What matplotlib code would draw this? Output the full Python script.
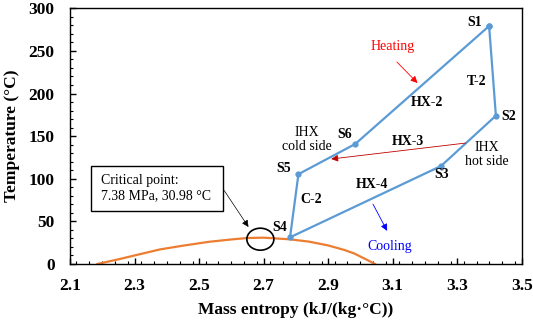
import matplotlib
matplotlib.use("Agg")
import matplotlib.pyplot as plt
from matplotlib.patches import Ellipse, Rectangle
from matplotlib.ticker import MultipleLocator
import numpy as np

plt.rcParams['font.family'] = ['Liberation Serif', 'DejaVu Serif']
plt.rcParams['mathtext.fontset'] = 'stix'

# Cycle state points (S1 -> S2 -> S3 -> S4 -> S5 -> S6 -> S1)
state_labels = ["S1", "S2", "S3", "S4", "S5", "S6"]
cycle_s = [3.399, 3.420, 3.250, 2.782, 2.808, 2.984]
cycle_T = [279.2, 174.0, 115.0, 31.3, 105.4, 140.8]

# Saturation dome of CO2
dome_s = [2.185, 2.25, 2.30, 2.38, 2.45, 2.53, 2.60, 2.65, 2.70, 2.78, 2.84, 2.90, 2.95, 2.98, 3.02, 3.045]
dome_T = [0.0, 5.5, 10.0, 17.2, 21.5, 26.0, 28.8, 30.5, 30.9, 29.0, 26.3, 21.8, 16.5, 12.5, 5.0, 0.0]

xticks = [2.1, 2.3, 2.5, 2.7, 2.9, 3.1, 3.3, 3.5]
yticks = [0, 50, 100, 150, 200, 250, 300]

line_blue = '#5B9BD5'
orange = '#ED7D31'

fig = plt.figure(figsize=(5.33, 3.24), dpi=100)
ax = fig.add_axes([70/533, 1-264/324, (521.7-70)/533, (264-8.3)/324])

ax.plot(dome_s, dome_T, color=orange, lw=1.6, zorder=2)

cs = cycle_s + [cycle_s[0]]
ct = cycle_T + [cycle_T[0]]
ax.plot(cs, ct, color=line_blue, lw=1.6, marker='o', markersize=3.5, zorder=3)

ax.set_xlim(2.1, 3.5)
ax.set_ylim(0, 300)
ax.set_xticks(xticks)
ax.set_yticks(yticks)
ax.xaxis.set_minor_locator(MultipleLocator(0.04))
ax.yaxis.set_minor_locator(MultipleLocator(10))
ax.tick_params(which='both', direction='in', top=False, right=False)
ax.tick_params(which='major', length=4, width=1)
ax.tick_params(which='minor', length=2.5, width=0.8)
ax.tick_params(axis='x', pad=10)
ax.tick_params(axis='y', pad=11)
for lab in ax.get_xticklabels() + ax.get_yticklabels():
    lab.set_fontweight('bold')
    lab.set_fontsize(12.5)
for sp in ax.spines.values():
    sp.set_linewidth(1.0)

ax.set_xlabel('Mass entropy (kJ/(kg·°C))', fontsize=12.5, fontweight='bold', labelpad=6)
ax.set_ylabel('Temperature (°C)', fontsize=12.5, fontweight='bold', labelpad=6)

# State labels
label_pos = {"S1": (3.355, 283.1), "S2": (3.459, 172.5), "S3": (3.252, 105.2),
             "S4": (2.751, 42.6), "S5": (2.761, 112.3), "S6": (2.952, 151.4)}
for name in state_labels:
    x, y = label_pos[name]
    ax.text(x, y, name, fontsize=10, fontweight='bold', ha='center', va='center')

# Component labels
for txt, (x, y) in {"T-2": (3.361, 213.9), "HX-2": (3.206, 189.3), "HX-3": (3.147, 143.5),
                    "C-2": (2.849, 75.1), "HX-4": (3.035, 93.5)}.items():
    ax.text(x, y, txt, fontsize=10, fontweight='bold', ha='center', va='center')

ax.text(3.392, 127.9, 'IHX\nhot side', fontsize=10, ha='center', va='center', linespacing=1.1)
ax.text(2.834, 145.5, 'IHX\ncold side', fontsize=10, ha='center', va='center', linespacing=1.1)

# Heating
ax.text(3.100, 255, 'Heating', color='#FF0000', fontsize=10, ha='center', va='center')
ax.annotate('', xy=(3.183, 210), xytext=(3.107, 239.4),
            arrowprops=dict(arrowstyle='-|>', color='#FF0000', lw=0.6, mutation_scale=10))
# HX-3 arrow
ax.annotate('', xy=(2.901, 122.8), xytext=(3.335, 142.3),
            arrowprops=dict(arrowstyle='-|>', color='#C00000', lw=0.6, mutation_scale=10))
# Cooling
ax.text(3.092, 21.1, 'Cooling', color='#0000FF', fontsize=10, ha='center', va='center')
ax.annotate('', xy=(3.087, 36.0), xytext=(3.035, 73.1),
            arrowprops=dict(arrowstyle='-|>', color='#0000FF', lw=0.6, mutation_scale=10))

# Critical point
ax.add_patch(Ellipse((2.690, 29.1), 0.0837, 25.8, fill=False, edgecolor='black', lw=1.2, zorder=4))
x0 = 2.1 + (90.7-70)/322.6
x1 = 2.1 + (222.7-70)/322.6
y0 = (264-211)/0.8523
y1 = (264-165.7)/0.8523
ax.add_patch(Rectangle((x0, y0), x1-x0, y1-y0, fill=True, facecolor='white', edgecolor='black', lw=1.0, zorder=4))
ax.text(2.1 + (101-70)/322.6, (y0+y1)/2, 'Critical point:\n7.38 MPa, 30.98 °C', fontsize=10,
        ha='left', va='center', linespacing=1.25, zorder=5)
ax.annotate('', xy=(2.1 + (250-70)/322.6, (264-229.3)/0.8523), xytext=(x1, (264-188.3)/0.8523),
            arrowprops=dict(arrowstyle='-|>', color='black', lw=0.5, mutation_scale=10))

fig.savefig('out.png', dpi=100)
